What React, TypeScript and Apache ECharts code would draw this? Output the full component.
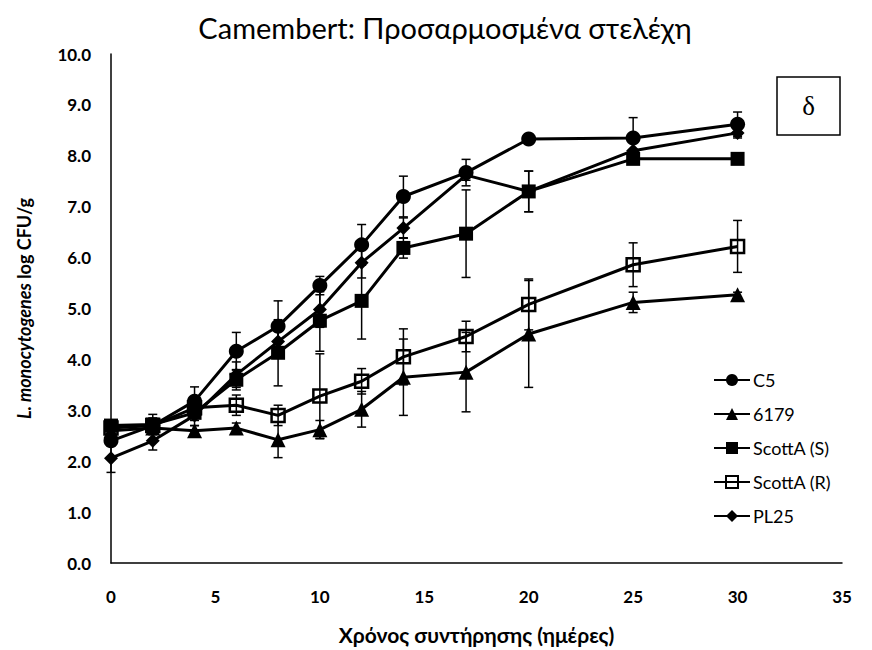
import React, { useEffect, useRef } from "react";
import * as echarts from "echarts";

const days = [0, 2, 4, 6, 8, 10, 12, 14, 17, 20, 25, 30];
const xTicks = [0, 5, 10, 15, 20, 25, 30, 35];

const seriesNames = ["C5", "6179", "ScottA (S)", "ScottA (R)", "PL25"];

const c5 = [2.4, 2.7, 3.18, 4.16, 4.65, 5.45, 6.25, 7.2, 7.67, 8.33, 8.35, 8.62];
const s6179 = [2.6, 2.65, 2.6, 2.65, 2.42, 2.62, 3.02, 3.65, 3.75, 4.5, 5.12, 5.27];
const scottS = [2.7, 2.72, 2.95, 3.6, 4.13, 4.76, 5.15, 6.19, 6.47, 7.3, 7.94, 7.94];
const scottR = [2.65, 2.7, 3.05, 3.1, 2.9, 3.28, 3.57, 4.05, 4.45, 5.08, 5.86, 6.22];
const pl25 = [2.06, 2.4, 2.9, 3.7, 4.35, 4.98, 5.9, 6.58, 7.62, 7.3, 8.1, 8.45];

const c5Err = [0.1, 0.15, 0.28, 0.37, 0.5, 0.18, 0.4, 0.4, 0.26, 0.1, 0.4, 0.24];
const s6179Err = [0.1, 0.1, 0.1, 0.1, 0.35, 0.18, 0.35, 0.75, 0.78, 1.05, 0.2, 0.05];
const scottSErr = [0.1, 0.2, 0.15, 0.2, 0.65, 0.6, 0.75, 0.2, 0.86, 0.4, 0.05, 0.05];
const scottRErr = [0.1, 0.1, 0.15, 0.2, 0.2, 0.83, 0.25, 0.55, 0.3, 0.5, 0.43, 0.51];
const pl25Err = [0.28, 0.18, 0.2, 0.25, 0.3, 0.35, 0.3, 0.2, 0.1, 0.4, 0.2, 0.1];

const FONT = "Lato, 'Open Sans', 'Noto Sans', sans-serif";

export default function App() {
  const ref = useRef<HTMLDivElement>(null);

  useEffect(() => {
    document.body.style.margin = "0";
    const chart = echarts.init(ref.current!, null, { renderer: "svg" });

    const values = [c5, s6179, scottS, scottR, pl25];
    const errs = [c5Err, s6179Err, scottSErr, scottRErr, pl25Err];
    const symbols = ["circle", "triangle", "rect", "rect", "diamond"];
    const sizes = [15, 15, 14, 13, 14];

    const lineSeries = seriesNames.map((name, i) => ({
      name,
      type: "line",
      data: days.map((d, j) => [d, values[i][j]]),
      symbol: symbols[i],
      symbolSize: sizes[i],
      z: 3,
      lineStyle: { color: "#000", width: 3 },
      itemStyle:
        i === 3
          ? { color: "rgba(255,255,255,0)", borderColor: "#000", borderWidth: 2.5 }
          : { color: "#000", borderColor: "#000", borderWidth: 0 },
    }));

    const errSeries = seriesNames.map((name, i) => ({
      name: name + " err",
      type: "custom",
      z: 2,
      data: days.map((d, j) => [d, values[i][j] - errs[i][j], values[i][j] + errs[i][j]]),
      encode: { x: 0, y: [1, 2] },
      renderItem: (params: any, api: any) => {
        const x = api.value(0);
        const lo = api.coord([x, api.value(1)]);
        const hi = api.coord([x, api.value(2)]);
        const hw = 4.5;
        const style = { stroke: "#000", lineWidth: 1.5 };
        return {
          type: "group",
          children: [
            { type: "line", shape: { x1: lo[0], y1: lo[1], x2: hi[0], y2: hi[1] }, style },
            { type: "line", shape: { x1: lo[0] - hw, y1: lo[1], x2: lo[0] + hw, y2: lo[1] }, style },
            { type: "line", shape: { x1: hi[0] - hw, y1: hi[1], x2: hi[0] + hw, y2: hi[1] }, style },
          ],
        };
      },
    }));

    chart.setOption({
      animation: false,
      backgroundColor: "#fff",
      title: {
        text: "Camembert: Προσαρμοσμένα στελέχη",
        left: 440,
        textAlign: "center",
        top: 8,
        textStyle: { fontFamily: FONT, fontSize: 29, fontWeight: "normal", color: "#000" },
      },
      grid: { left: 111, right: 30, top: 54, bottom: 86, containLabel: false },
      legend: {
        data: seriesNames,
        orient: "vertical",
        left: 708,
        top: 366,
        itemWidth: 36,
        itemHeight: 15,
        itemGap: 16,
        textStyle: { fontFamily: FONT, fontSize: 18, color: "#000", padding: [0, 0, 0, -2] },
      },
      xAxis: {
        type: "value",
        min: 0,
        max: 35,
        interval: 5,
        name: "Χρόνος συντήρησης (ημέρες)",
        nameLocation: "middle",
        nameGap: 61,
        nameTextStyle: { fontFamily: FONT, fontSize: 21, fontWeight: "bold", color: "#000" },
        axisLine: { lineStyle: { color: "#000", width: 1.5 } },
        axisTick: { show: false },
        splitLine: { show: false },
        axisLabel: {
          margin: 25,
          fontFamily: FONT,
          fontSize: 17,
          fontWeight: "bold",
          color: "#000",
          customValues: xTicks,
        },
      },
      yAxis: {
        type: "value",
        min: 0,
        max: 10,
        interval: 1,
        name: "{i|L. monocytogenes} log CFU/g",
        nameLocation: "middle",
        nameGap: 78,
        nameTextStyle: {
          fontFamily: FONT,
          fontSize: 18,
          fontWeight: "bold",
          color: "#000",
          rich: {
            i: { fontFamily: FONT, fontSize: 18, fontWeight: "bold", fontStyle: "italic", color: "#000" },
          },
        },
        axisLine: { show: true, lineStyle: { color: "#000", width: 1.5 } },
        axisTick: { show: false },
        splitLine: { show: false },
        axisLabel: {
          margin: 20,
          fontFamily: FONT,
          fontSize: 17,
          fontWeight: "bold",
          color: "#000",
          formatter: (v: number) => v.toFixed(1),
        },
      },
      graphic: [
        {
          type: "rect",
          shape: { x: 777, y: 77, width: 63, height: 58 },
          style: { fill: "#fff", stroke: "#000", lineWidth: 1.5 },
          z: 10,
        },
        {
          type: "text",
          x: 808.5,
          y: 106,
          style: {
            text: "δ",
            fontFamily: "'Liberation Serif', 'DejaVu Serif', serif",
            fontSize: 27,
            fill: "#000",
            align: "center",
            verticalAlign: "middle",
          },
          z: 11,
        },
      ],
      series: [...errSeries, ...lineSeries],
    });

    return () => chart.dispose();
  }, []);

  return <div ref={ref} style={{ width: 872, height: 650 }} />;
}
